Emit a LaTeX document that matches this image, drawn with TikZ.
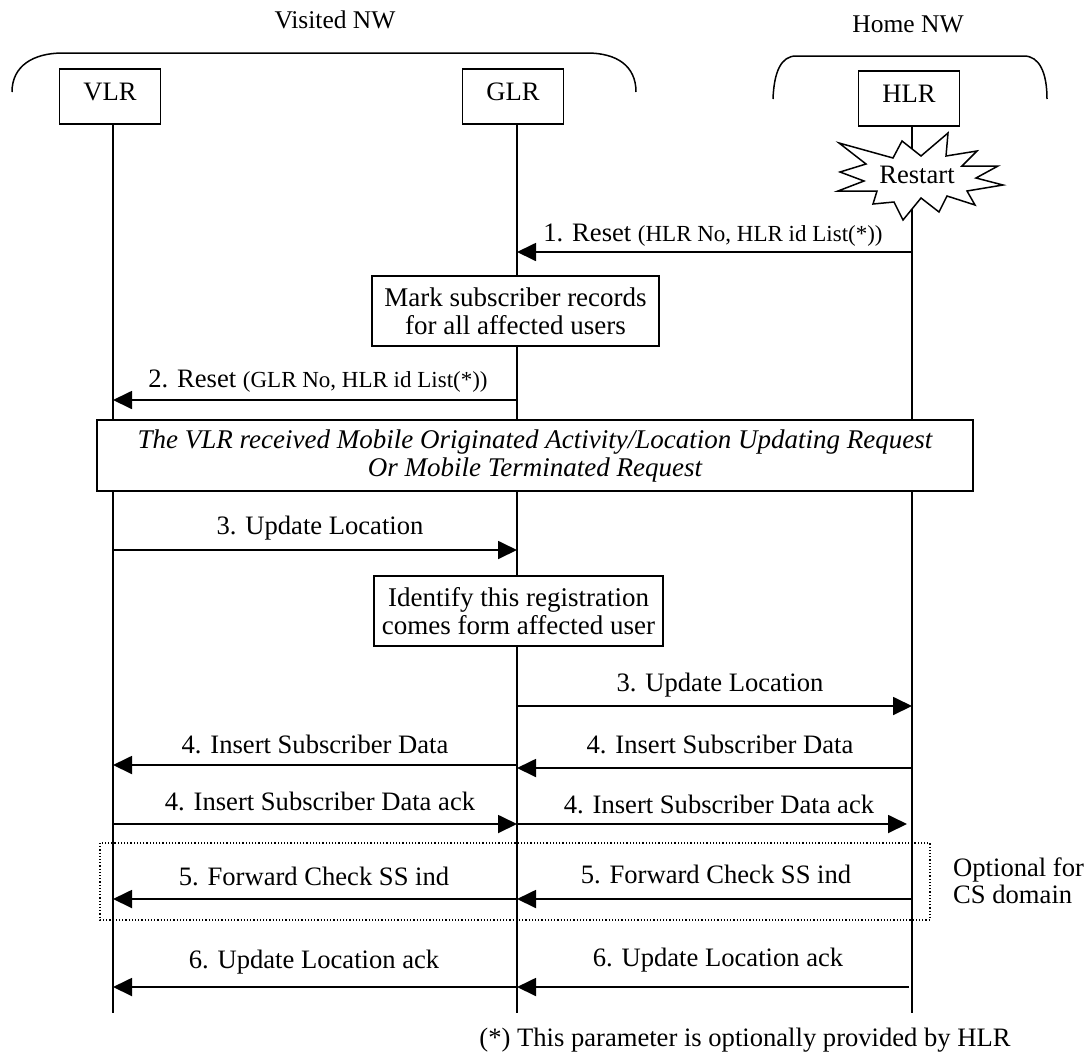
\documentclass[tikz,border=0pt]{standalone}
\usepackage{fontspec}
\setmainfont{Liberation Serif}
\usetikzlibrary{arrows.meta}
\begin{document}
\begin{tikzpicture}[x=1pt,y=-1pt,
  lbl/.style={font=\fontsize{26.6}{28}\selectfont, inner sep=0pt, anchor=base},
  ttl/.style={font=\fontsize{25.5}{28}\selectfont, inner sep=0pt, anchor=base},
  ent/.style={draw, line width=1.6pt, fill=white, inner sep=0pt, minimum width=101pt, minimum height=55pt, text height=17pt, text depth=10pt, font=\fontsize{26.6}{28}\selectfont},
  life/.style={line width=1.5pt},
  msg/.style={line width=1.8pt, -{Triangle[length=19pt,width=18pt]}},
  notebox/.style={draw, line width=1.6pt, fill=white, inner sep=0pt, align=center, font=\fontsize{27}{28}\selectfont},
  brk/.style={line width=1.5pt}
]
\useasboundingbox (0,0) rectangle (1086,1052);

% titles
\node[ttl] (visited) at (335,28) {Visited NW};
\node[ttl] (home) at (908,32) {Home NW};

% brackets
\draw[brk] (12,92) .. controls (12,66) and (33,53) .. (63,53) -- (587,53) .. controls (617,53) and (636,66) .. (636,92);
\draw[brk] (773,99) .. controls (774,72) and (781,56) .. (796,56) -- (1024,56) .. controls (1039,56) and (1047,72) .. (1047,99);

% lifeline end points
\coordinate (vt) at (113,124); \coordinate (vb) at (113,1013);
\coordinate (gt) at (517,124); \coordinate (gb) at (517,1013);
\coordinate (ht) at (912,126); \coordinate (hb) at (912,1013);
\draw[life] (vt) -- (vb);
\draw[life] (gt) -- (gb);
\draw[life] (ht) -- (hb);

% entities
\node[ent] (vlr) at (110,96.5) {VLR};
\node[ent] (glr) at (513,96.5) {GLR};
\node[ent] (hlr) at (909,98.5) {HLR};

% restart star
\draw[line width=1.5pt, fill=white] (839,143) -- (893,158) -- (902,141) -- (921,156) -- (948,133) -- (946,156) -- (977,151) -- (962,166) -- (998,166) -- (976,178) -- (1003,185) -- (967,191) -- (975,205) -- (947,196) -- (939,212) -- (921,198) -- (903,220) -- (894,202) -- (873,204) -- (877,191) -- (838,191) -- (864,181) -- (840,172) -- (866,164) -- cycle;
\node[lbl] (restart) at (917,183) {Restart};

% message end points
\coordinate (m1s) at (912,252); \coordinate (m1e) at (517,252);
\coordinate (m2s) at (517,400); \coordinate (m2e) at (113,400);
\coordinate (m3as) at (113,550); \coordinate (m3ae) at (517,550);
\coordinate (m3bs) at (517,706); \coordinate (m3be) at (912,706);
\coordinate (m4as) at (517,765); \coordinate (m4ae) at (113,765);
\coordinate (m4bs) at (912,768); \coordinate (m4be) at (517,768);
\coordinate (m5as) at (113,824); \coordinate (m5ae) at (517,824);
\coordinate (m5bs) at (517,824); \coordinate (m5be) at (907,824);
\coordinate (m6as) at (517,899); \coordinate (m6ae) at (113,899);
\coordinate (m6bs) at (912,899); \coordinate (m6be) at (517,899);
\coordinate (m7as) at (517,987); \coordinate (m7ae) at (113,987);
\coordinate (m7bs) at (909,987); \coordinate (m7be) at (517,987);

% 1. Reset
\draw[msg] (m1s) -- (m1e);
\node[lbl] (l1) at (713,241) {1. Reset {\fontsize{23}{26}\selectfont (HLR No, HLR id List(*))}};

% Mark box
\node[notebox, minimum width=287pt, minimum height=70pt] (mark) at (515.5,311) {Mark subscriber records\\for all affected users};

% 2. Reset
\draw[msg] (m2s) -- (m2e);
\node[lbl] (l2) at (318,387) {2. Reset {\fontsize{23}{26}\selectfont (GLR No, HLR id List(*))}};

% big italic box
\node[notebox, minimum width=876pt, minimum height=71pt, font=\fontsize{27}{28}\selectfont\itshape] (trig) at (535,455.5) {The VLR received Mobile Originated Activity/Location Updating Request\\Or Mobile Terminated Request};

% 3. Update Location
\draw[msg] (m3as) -- (m3ae);
\node[lbl] (l3a) at (320,534) {3. Update Location};

\node[notebox, minimum width=289pt, minimum height=70pt] (ident) at (518.5,611) {Identify this registration\\comes form affected user};

\draw[msg] (m3bs) -- (m3be);
\node[lbl] (l3b) at (720,691) {3. Update Location};

% 4. Insert Subscriber Data
\draw[msg] (m4as) -- (m4ae);
\node[lbl] (l4a) at (315,753) {4. Insert Subscriber Data};
\draw[msg] (m4bs) -- (m4be);
\node[lbl] (l4b) at (720,753) {4. Insert Subscriber Data};

% 4. ack
\draw[msg] (m5as) -- (m5ae);
\node[lbl] (l5a) at (320,810) {4. Insert Subscriber Data ack};
\draw[msg] (m5bs) -- (m5be);
\node[lbl] (l5b) at (719,813) {4. Insert Subscriber Data ack};

% optional box
\coordinate (dtl) at (100,843); \coordinate (dbr) at (930,920);
\draw[dotted, line width=1.2pt] (dtl) rectangle (dbr);

% 5. Forward Check SS ind
\draw[msg] (m6as) -- (m6ae);
\node[lbl] (l6a) at (314,885) {5. Forward Check SS ind};
\draw[msg] (m6bs) -- (m6be);
\node[lbl] (l6b) at (716,883) {5. Forward Check SS ind};

\node[lbl, anchor=base west] (opt1) at (953,876) {Optional for};
\node[lbl, anchor=base west] (opt2) at (953,903) {CS domain};

% 6. Update Location ack
\draw[msg] (m7as) -- (m7ae);
\node[lbl] (l7a) at (314,968) {6. Update Location ack};
\draw[msg] (m7bs) -- (m7be);
\node[lbl] (l7b) at (718,966) {6. Update Location ack};

% footnote
\node[lbl] (foot) at (745,1046) {(*) This parameter is optionally provided by HLR};
\end{tikzpicture}
\end{document}
